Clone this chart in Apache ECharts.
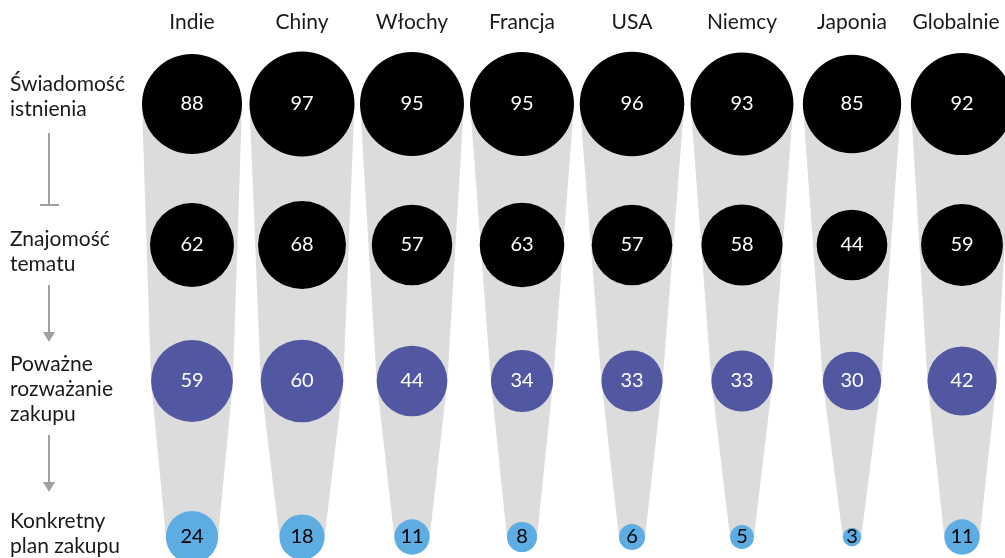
<!DOCTYPE html>
<html>
<head>
<meta charset="utf-8">
<script src="https://cdn.jsdelivr.net/npm/echarts@6/dist/echarts.min.js"></script>
<style>
  html, body { margin: 0; padding: 0; background: #fff; }
  #chart { width: 1005px; height: 558px; }
</style>
</head>
<body>
<div id="chart"></div>
<script>
const countries = ["Indie", "Chiny", "Włochy", "Francja", "USA", "Niemcy", "Japonia", "Globalnie"];
const stages = ["Świadomość\nistnienia", "Znajomość\ntematu", "Poważne\nrozważanie\nzakupu", "Konkretny\nplan zakupu"];
const awareness = [88, 97, 95, 95, 96, 93, 85, 92];
const familiarity = [62, 68, 57, 63, 57, 58, 44, 59];
const consideration = [59, 60, 44, 34, 33, 33, 30, 42];
const purchasePlan = [24, 18, 11, 8, 6, 5, 3, 11];

// layout: vertical position of each stage row on the (hidden) y axis
const ROW_POS = [0, 141, 277, 433];
const SIZE_K = 10.66; // circle diameter = K * sqrt(value)
const FONT = "Lato, 'Noto Sans', sans-serif";

const stageValues = [awareness, familiarity, consideration, purchasePlan];
const stageColors = ["#000000", "#000000", "#5257a1", "#5dade2"];
const labelColors = ["#ffffff", "#ffffff", "#ffffff", "#000000"];

const chart = echarts.init(document.getElementById("chart"));

const half = (v) => (SIZE_K * Math.sqrt(v)) / 2;

const funnelSeries = {
  type: "custom",
  z: 1,
  silent: true,
  data: countries.map((c, i) => [i, awareness[i], consideration[i], purchasePlan[i]]),
  renderItem: (params, api) => {
    const col = api.value(0);
    const rows = [ROW_POS[0], ROW_POS[2], ROW_POS[3]];
    const vals = [api.value(1), api.value(2), api.value(3)];
    const left = [];
    const right = [];
    rows.forEach((r, k) => {
      const p = api.coord([col, r]);
      left.push([p[0] - half(vals[k]), p[1]]);
      right.unshift([p[0] + half(vals[k]), p[1]]);
    });
    return {
      type: "polygon",
      shape: { points: left.concat(right) },
      style: { fill: "#dcdcdc" },
    };
  },
};

const circleSeries = stageValues.map((vals, s) => ({
  type: "scatter",
  z: 2,
  silent: true,
  data: vals.map((v, i) => [i, ROW_POS[s], v]),
  symbol: "circle",
  symbolSize: (d) => SIZE_K * Math.sqrt(d[2]),
  itemStyle: { color: stageColors[s], opacity: 1 },
  label: {
    show: true,
    position: "inside",
    formatter: (p) => p.value[2],
    color: labelColors[s],
    fontFamily: FONT,
    fontSize: 20,
  },
}));

// left stage labels and arrows
const labelTops = [72, 227, 352, 509];
const graphics = stages.map((t, s) => ({
  type: "text",
  left: 10,
  top: labelTops[s],
  style: { text: t, font: "21px " + FONT, fill: "#1a1a1a", lineHeight: 25 },
}));
const arrowStyle = { stroke: "#a0a0a0", lineWidth: 2 };
graphics.push(
  { type: "line", shape: { x1: 49, y1: 133, x2: 49, y2: 205 }, style: arrowStyle },
  { type: "line", shape: { x1: 40, y1: 205, x2: 59, y2: 205 }, style: arrowStyle },
  { type: "line", shape: { x1: 49, y1: 285, x2: 49, y2: 334 }, style: arrowStyle },
  { type: "polygon", shape: { points: [[43, 332], [55, 332], [49, 342]] }, style: { fill: "#a0a0a0" } },
  { type: "line", shape: { x1: 49, y1: 435, x2: 49, y2: 484 }, style: arrowStyle },
  { type: "polygon", shape: { points: [[43, 482], [55, 482], [49, 492]] }, style: { fill: "#a0a0a0" } }
);

chart.setOption({
  animation: false,
  backgroundColor: "#ffffff",
  grid: { left: 192, right: 43, top: 104, bottom: 21 },
  xAxis: {
    type: "category",
    data: countries,
    position: "top",
    boundaryGap: false,
    axisLine: { show: false },
    axisTick: { show: false },
    splitLine: { show: false },
    axisLabel: {
      interval: 0,
      margin: 71,
      color: "#1a1a1a",
      fontFamily: FONT,
      fontSize: 21,
      formatter: (v, i) => (i === countries.length - 1 ? "{g|" + v + "}" : v),
      rich: { g: { padding: [0, 12, 0, 0], fontFamily: FONT, fontSize: 21, color: "#1a1a1a" } },
    },
  },
  yAxis: {
    type: "value",
    inverse: true,
    min: 0,
    max: 433,
    show: false,
  },
  graphic: graphics,
  series: [funnelSeries, ...circleSeries],
});
</script>
</body>
</html>
